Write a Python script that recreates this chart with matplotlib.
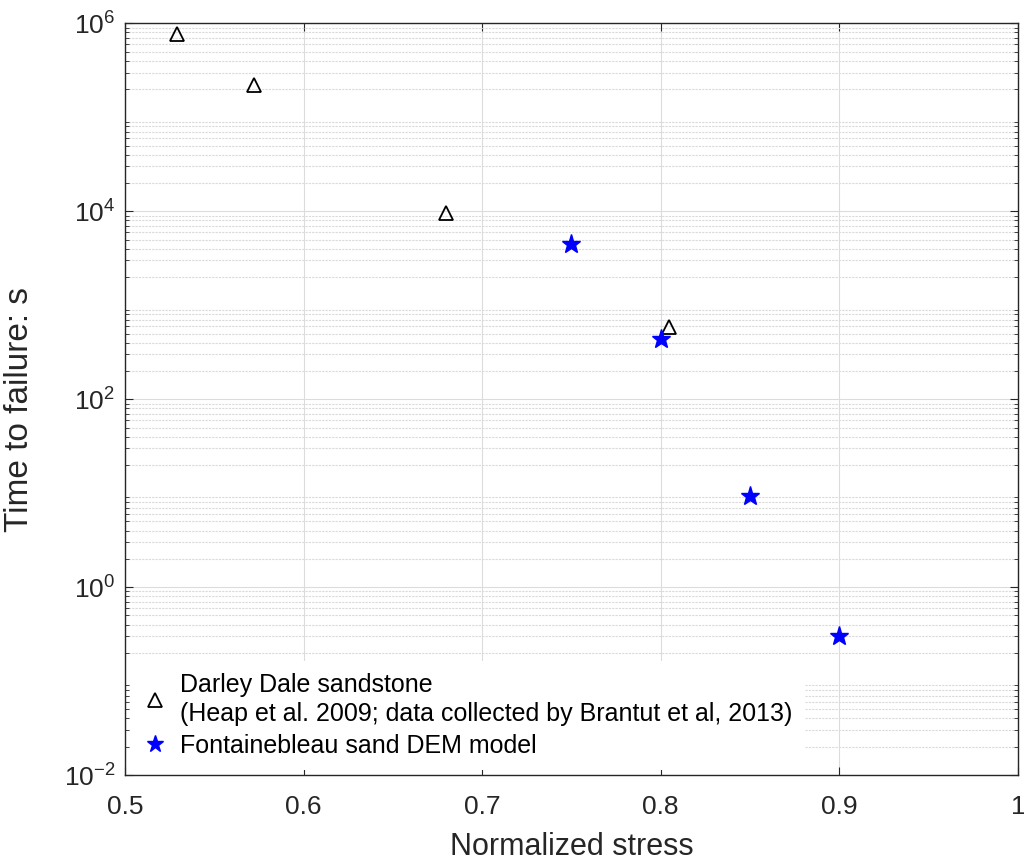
import matplotlib
matplotlib.use("Agg")
import matplotlib.pyplot as plt
from matplotlib.ticker import LogLocator, NullFormatter, FixedLocator
import numpy as np

# Data
dd_stress = [0.529, 0.572, 0.680, 0.8045]
dd_time = [7.8e5, 2.2e5, 9.5e3, 5.8e2]
fs_stress = [0.75, 0.80, 0.85, 0.90]
fs_time = [4.45e3, 4.35e2, 9.3, 0.30]

xticks = [0.5, 0.6, 0.7, 0.8, 0.9, 1.0]
xticklabels = ["0.5", "0.6", "0.7", "0.8", "0.9", "1"]
yticks = [1e-2, 1e0, 1e2, 1e4, 1e6]
yticklabels = [r"$10^{-2}$", r"$10^{0}$", r"$10^{2}$", r"$10^{4}$", r"$10^{6}$"]

plt.rcParams['font.family'] = ['Liberation Sans', 'DejaVu Sans']
plt.rcParams['mathtext.fontset'] = 'custom'
plt.rcParams['mathtext.rm'] = 'Liberation Sans'
plt.rcParams['mathtext.it'] = 'Liberation Sans'
plt.rcParams['mathtext.default'] = 'rm'

fig = plt.figure(figsize=(10.24, 8.66), dpi=100)
ax = fig.add_axes([0.122, 0.105, 0.872, 0.868])

axc = '#262626'
ax.plot(dd_stress, dd_time, linestyle='none', marker='^', ms=10.5, mfc='none',
        mec='black', mew=1.3,
        label="Darley Dale sandstone\n(Heap et al. 2009; data collected by Brantut et al, 2013)")
ax.plot(fs_stress, fs_time, linestyle='none', marker='*', ms=14, mfc='#0000ff',
        mec='#0000ff', label="Fontainebleau sand DEM model")

ax.set_yscale('log')
ax.set_xlim(0.5, 1.0)
ax.set_ylim(1e-2, 1e6)
ax.set_xticks(xticks)
ax.set_xticklabels(xticklabels)
ax.yaxis.set_major_locator(FixedLocator(yticks))
ax.set_yticklabels(yticklabels)
ax.yaxis.set_minor_locator(LogLocator(base=10, subs=np.arange(2, 10), numticks=20))
ax.yaxis.set_minor_formatter(NullFormatter())

ax.grid(True, which='major', axis='both', color='#dcdcdc', linewidth=0.8, linestyle='-')
ax.grid(True, which='minor', axis='y', color='#dadada', linewidth=0.8, linestyle=(0, (2, 1)))
ax.set_axisbelow(True)

for s in ax.spines.values():
    s.set_color(axc)
    s.set_linewidth(1.0)
ax.tick_params(which='both', direction='in', top=True, right=True, colors=axc,
               labelcolor=axc)
ax.tick_params(which='major', length=6, labelsize=19)
ax.tick_params(axis='x', which='major', pad=14)
ax.tick_params(axis='y', which='major', pad=7)
ax.tick_params(which='minor', length=3)

ax.set_xlabel("Normalized stress", fontsize=22, color=axc, labelpad=10)
ax.set_ylabel("Time to failure: s", fontsize=24, color=axc)
ax.yaxis.set_label_coords(-0.101, 0.486)

leg = ax.legend(loc='lower left', frameon=True, facecolor='white', edgecolor='none',
                framealpha=1.0, fontsize=18, markerscale=0.9, handlelength=1.0,
                handletextpad=0.5, borderaxespad=0.2, borderpad=0.5,
                labelspacing=0.3, fancybox=False)
for t in leg.get_texts():
    t.set_color('black')
    t.set_linespacing(1.25)

fig.savefig("out.png", dpi=100)
